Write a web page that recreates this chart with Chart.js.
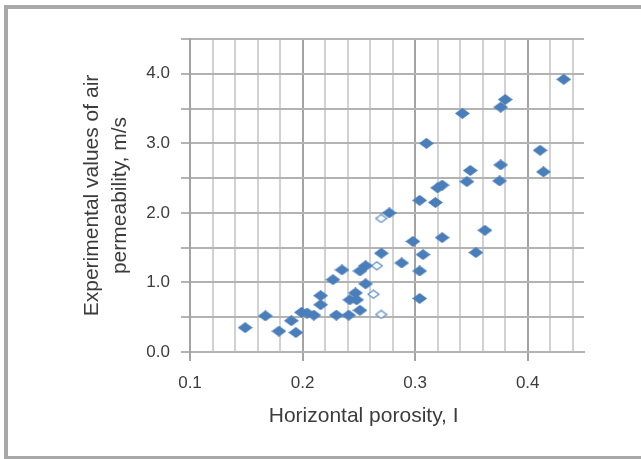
<!DOCTYPE html>
<html>
<head>
<meta charset="utf-8">
<script src="https://cdn.jsdelivr.net/npm/chart.js@4"></script>
<style>
  body { margin: 0; background: #fff; overflow: hidden; }
  #frame {
    position: absolute; left: 4px; top: 5px;
    width: 700px; height: 447px;
    border: 4px solid #a8a8a8; border-right: none;
  }
  #myChart { position: absolute; left: 0; top: 0; }
</style>
</head>
<body>
<div id="frame"></div>
<canvas id="myChart" width="641" height="459"></canvas>
<script>
// measured points (filled diamonds)
const porosity = [
    0.149, 0.167, 0.179, 0.190, 0.194, 0.199, 0.204, 0.210, 0.216, 0.216,
    0.227, 0.230, 0.235, 0.241, 0.242, 0.247, 0.248, 0.251, 0.251, 0.256,
    0.256, 0.270, 0.277, 0.288, 0.298, 0.304, 0.304, 0.304, 0.307, 0.310,
    0.318, 0.320, 0.324, 0.324, 0.342, 0.346, 0.349, 0.354, 0.362, 0.375,
    0.376, 0.376, 0.380, 0.411, 0.414, 0.432
];
const permeability = [
    0.35, 0.52, 0.30, 0.45, 0.28, 0.57, 0.56, 0.53, 0.81, 0.68,
    1.04, 0.53, 1.18, 0.53, 0.75, 0.85, 0.75, 1.165, 0.60, 1.24,
    0.98, 1.42, 2.00, 1.28, 1.59, 2.18, 1.165, 0.77, 1.40, 3.00,
    2.15, 2.36, 2.40, 1.645, 3.43, 2.45, 2.61, 1.43, 1.75, 2.46,
    2.69, 3.52, 3.63, 2.90, 2.59, 3.92
];
// hollow diamonds
const porosityOpen = [0.2698, 0.266, 0.263, 0.2698];
const permeabilityOpen = [1.92, 1.24, 0.83, 0.54];

const xTickLabels = ['0.1', '0.2', '0.3', '0.4'];
const yTickLabels = ['0.0', '1.0', '2.0', '3.0', '4.0'];

const blue = '#4a7ebb';
const textColor = '#3c3c3c';

function diamond(w, h, fill, stroke) {
    const c = document.createElement('canvas');
    c.width = w;
    c.height = h;
    const g = c.getContext('2d');
    const inset = stroke ? 1 : 0;
    g.beginPath();
    g.moveTo(w / 2, inset);
    g.lineTo(w - inset, h / 2);
    g.lineTo(w / 2, h - inset);
    g.lineTo(inset, h / 2);
    g.closePath();
    g.fillStyle = fill;
    g.fill();
    if (stroke) {
        g.strokeStyle = stroke;
        g.lineWidth = 1.3;
        g.stroke();
    }
    return c;
}

const pts = (xs, ys) => xs.map((x, i) => ({ x: x, y: ys[i] }));
const hund = v => Math.round(v * 100);

const ctx = document.getElementById('myChart').getContext('2d');
new Chart(ctx, {
    type: 'scatter',
    data: {
        datasets: [
            {
                data: pts(porosity, permeability),
                pointStyle: diamond(15, 11, blue),
                backgroundColor: blue
            },
            {
                data: pts(porosityOpen, permeabilityOpen),
                pointStyle: diamond(13, 10, '#ffffff', '#5b8cc8'),
                backgroundColor: '#ffffff'
            }
        ]
    },
    options: {
        responsive: false,
        animation: false,
        layout: {
            padding: { top: 39, right: 57, left: 0, bottom: 0 }
        },
        scales: {
            x: {
                type: 'linear',
                min: 0.1,
                max: 0.45,
                afterFit: scale => { scale.height = 107; },
                ticks: {
                    stepSize: 0.02,
                    includeBounds: false,
                    autoSkip: false,
                    maxRotation: 0,
                    padding: 12,
                    color: textColor,
                    font: { family: 'Liberation Sans, Arial', size: 17 },
                    callback: v => {
                        const lbl = v.toFixed(1);
                        return hund(v) % 10 === 0 && xTickLabels.includes(lbl) ? lbl : '';
                    }
                },
                grid: {
                    lineWidth: 2,
                    tickLength: 9,
                    color: c => {
                        const h = hund(c.tick.value);
                        if (h % 2 !== 0) return 'rgba(0,0,0,0)';
                        return h % 10 === 0 ? '#a3a3a3' : '#d2d2d2';
                    },
                    tickColor: c => hund(c.tick.value) % 10 === 0 ? '#a3a3a3' : 'rgba(0,0,0,0)'
                },
                border: { color: '#b3b3b3', width: 2 },
                title: {
                    display: true,
                    text: 'Horizontal porosity, I' + '        ',
                    color: textColor,
                    font: { family: 'Liberation Sans, Arial', size: 21 },
                    padding: { top: 0, bottom: 30 }
                }
            },
            y: {
                min: 0,
                max: 4.5,
                afterFit: scale => { scale.width = 190; },
                ticks: {
                    stepSize: 0.5,
                    padding: 11,
                    color: textColor,
                    font: { family: 'Liberation Sans, Arial', size: 17 },
                    callback: v => {
                        const lbl = v.toFixed(1);
                        return yTickLabels.includes(lbl) ? lbl : '';
                    }
                },
                grid: {
                    lineWidth: 2,
                    tickLength: 9,
                    color: '#b3b3b3'
                },
                border: { color: '#a3a3a3', width: 2 },
                title: {
                    display: true,
                    text: ['Experimental values of air', 'permeability, m/s'],
                    color: textColor,
                    font: { family: 'Liberation Sans, Arial', size: 21, lineHeight: 1.3 },
                    padding: { top: 79, bottom: 0 }
                }
            }
        },
        plugins: {
            legend: { display: false },
            tooltip: { enabled: false }
        }
    }
});
</script>
</body>
</html>
